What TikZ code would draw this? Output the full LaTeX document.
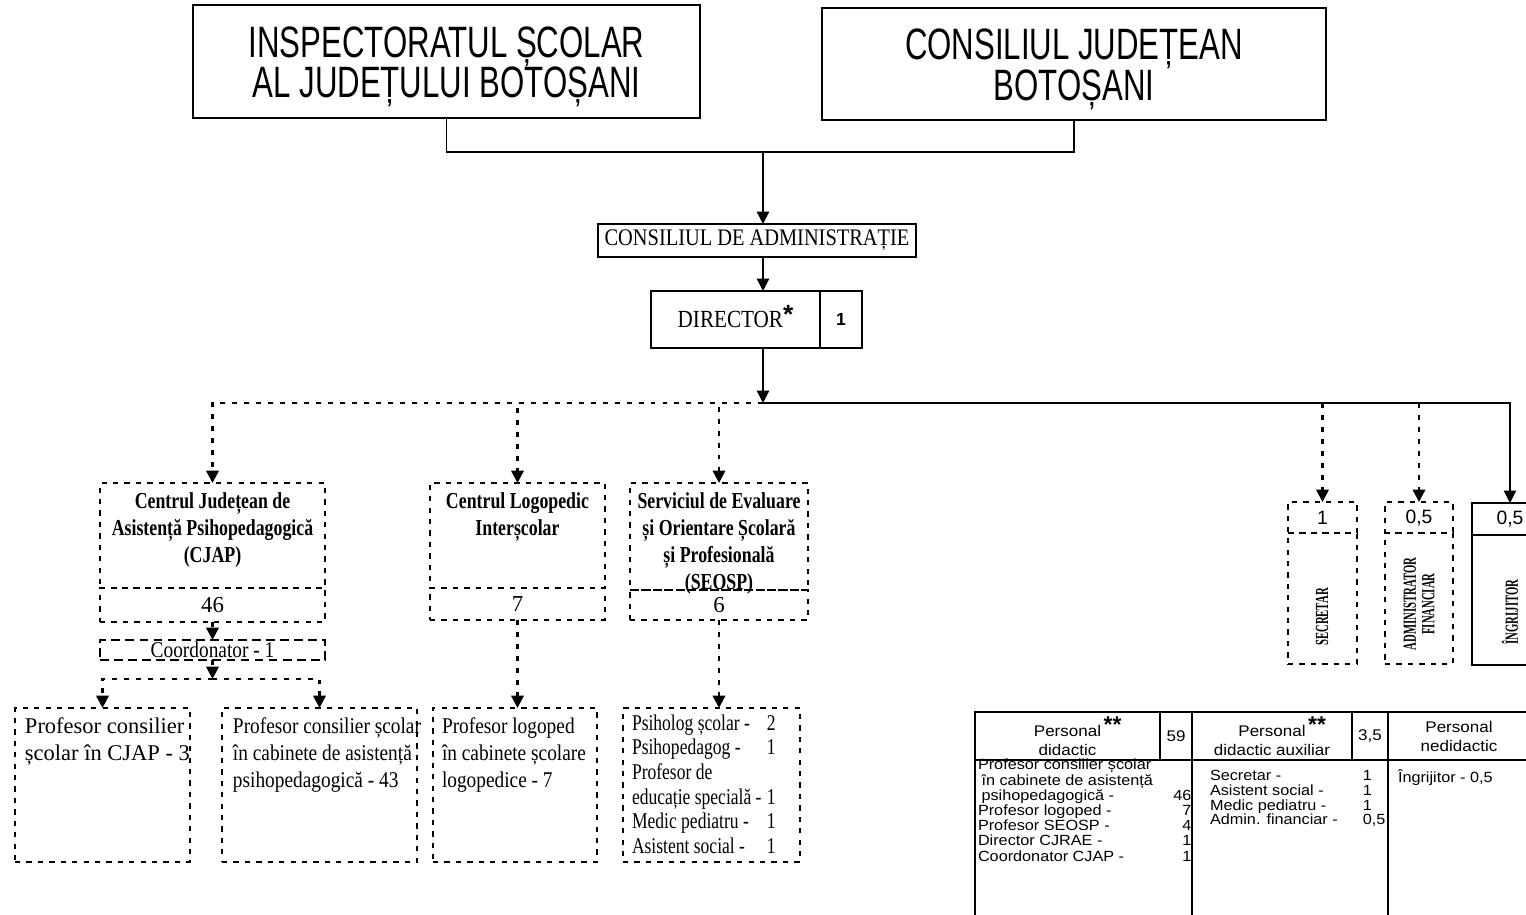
\documentclass[tikz,border=0pt]{standalone}
\usepackage{fontspec}
\setmainfont{Liberation Serif}
\setsansfont{Liberation Sans}
\newfontfamily\narrowsans[FakeStretch=0.71]{Liberation Sans}
\newfontfamily\widesans[FakeStretch=1.1]{Liberation Sans}
\newfontfamily\condserif[FakeStretch=0.78]{Liberation Serif}
\newfontfamily\midserif[FakeStretch=0.86]{Liberation Serif}
\newfontfamily\vertserif[FakeStretch=0.58]{Liberation Serif}
\newcommand\starfont{\sffamily\bfseries\fontsize{13}{13}\selectfont}
\usetikzlibrary{arrows.meta}

\begin{document}
\begin{tikzpicture}[x=0.02cm,y=-0.02cm,
  every node/.style={inner sep=0pt,outer sep=0pt},
  wh/.style 2 args={minimum width=#1*0.02cm,minimum height=#2*0.02cm},
  sbox/.style={rectangle,draw,line width=0.8pt},
  dbox/.style={rectangle,draw,line width=1.3pt,dash pattern=on 3pt off 3.5pt},
  tbox/.style={rectangle,draw,line width=0.6pt},
  conn/.style={line width=0.7pt},
  arr/.style={conn,-{Triangle[length=7pt,width=7pt]}},
  darr/.style={line width=1.4pt,dash pattern=on 2.8pt off 4pt,-{Triangle[length=7pt,width=7pt]}},
  toptext/.style={font=\narrowsans\fontsize{25}{23}\selectfont,align=center},
  headtext/.style={font=\condserif\bfseries\fontsize{13}{15.3}\selectfont,align=center,anchor=north},
  leaftext/.style={font=\midserif\fontsize{12.8}{15.3}\selectfont,align=left,anchor=north west},
  celltext/.style={font=\widesans\fontsize{8.8}{10.8}\selectfont,align=center},
  tabtext/.style={font=\widesans\fontsize{8.4}{8.5}\selectfont,anchor=north west},
  verttext/.style={font=\vertserif\bfseries\fontsize{10.5}{10.5}\selectfont,rotate=90,align=center}]
  \useasboundingbox (0,0) rectangle (1526,915);
  \clip (0,0) rectangle (1526,915);

  \node[sbox,wh={507}{113}] (isj) at (446.5,61.5) {};
  \node[toptext] (isjt) at ([yshift=-0.11cm]isj.center) {INSPECTORATUL ȘCOLAR\\AL JUDEȚULUI BOTOȘANI};
  \node[sbox,wh={504}{112}] (cj) at (1074,64) {};
  \node[toptext] (cjt) at ([yshift=-0.11cm]cj.center) {CONSILIUL JUDEȚEAN\\BOTOȘANI};
  \coordinate (j1) at (763,152);
  \draw[conn] (isj.south) |- (j1) -| (cj.south);

  \node[sbox,wh={318}{33},font=\midserif\fontsize{13.5}{16}\selectfont] (ca) at (757,240.5) {CONSILIUL DE ADMINISTRAȚIE};
  \draw[arr] (j1) -- (j1 |- ca.north);
  \node[sbox,wh={169}{57},font=\midserif\fontsize{14}{16}\selectfont] (dir) at (735.5,319.5) {DIRECTOR\smash{\raisebox{0.35ex}{\starfont\fontsize{15}{15}\selectfont *}}};
  \node[sbox,wh={42}{57},font=\sffamily\bfseries\fontsize{10}{12}\selectfont] (dirn) at (841,319.5) {1};
  \draw[arr] (ca.south -| j1) -- (dir.north -| j1);
  \coordinate (j2) at (763,403);
  \draw[arr] (dir.south -| j2) -- (j2);

  % centre
  \node[dbox,wh={225}{105}] (cjap) at (212.5,535.5) {};
  \node[dbox,wh={225}{34},font=\fontsize{13}{15}\selectfont] (cjapn) at (212.5,605) {46};
  \node[headtext] (cjapt) at ([yshift=-0.2cm]cjap.north) {Centrul Județean de\\Asistență Psihopedagogică\\(CJAP)};
  \node[dbox,wh={175}{105}] (clog) at (517.5,535.5) {};
  \node[dbox,wh={175}{32},font=\fontsize{13}{15}\selectfont] (clogn) at (517.5,604) {7};
  \node[headtext] (clogt) at ([yshift=-0.2cm]clog.north) {Centrul Logopedic\\Interșcolar};
  \node[dbox,wh={178}{107}] (seosp) at (719,536.5) {};
  \node[dbox,wh={178}{30},font=\fontsize{13}{15}\selectfont] (seospn) at (719,605) {6};
  \node[headtext] (seospt) at ([yshift=-0.2cm]seosp.north) {Serviciul de Evaluare\\și Orientare Școlară\\și Profesională\\(SEOSP)};
  \draw[darr] (j2) -| (cjap.north);
  \draw[darr] (j2) -| (clog.north);
  \draw[darr] (j2) -| (seosp.north);

  \node[rectangle,draw,line width=0.8pt,dash pattern=on 5pt off 3pt,wh={225}{20}] (cjapc) at (212.5,650) {};
  \node[font=\midserif\fontsize{12.8}{15}\selectfont] (cjapct) at (cjapc) {Coordonator - 1};
  \draw[darr] (cjapn.south) -- (cjapc.north);
  \coordinate (j3) at (212.5,679);
  \draw[darr] (cjapc.south) -- (j3);

  \node[dbox,wh={175}{154}] (leaf1) at (102.5,785) {};
  \node[dbox,wh={195}{154}] (leaf2) at (319.5,785) {};
  \node[dbox,wh={164}{154}] (leaf3) at (515,785) {};
  \node[dbox,wh={177}{154}] (leaf4) at (711.5,785) {};
  \draw[darr] (j3) -| (leaf1.north);
  \draw[darr] (j3) -| (leaf2.north);
  \draw[darr] (clogn.south) -- (clogn.south |- leaf3.north);
  \draw[darr] (seospn.south) -- (seospn.south |- leaf4.north);
  \node[leaftext,font=\fontsize{12.8}{15.3}\selectfont] (leaf1t) at ([xshift=0.2cm,yshift=-0.2cm]leaf1.north west) {Profesor consilier\\școlar în CJAP - 3};
  \node[leaftext] (leaf2t) at ([xshift=0.22cm,yshift=-0.2cm]leaf2.north west) {Profesor consilier școlar\\în cabinete de asistență\\psihopedagogică - 43};
  \node[leaftext] (leaf3t) at ([xshift=0.18cm,yshift=-0.2cm]leaf3.north west) {Profesor logoped\\în cabinete școlare\\logopedice - 7};
  \node[leaftext,font=\condserif\fontsize{12.8}{14}\selectfont] (leaf4t) at ([xshift=0.18cm,yshift=-0.1cm]leaf4.north west) {%
    \begin{tabular}{@{}l@{\hspace{3pt}}l@{}}
      Psiholog școlar - & 2\\
      Psihopedagog - & 1\\
      \multicolumn{2}{@{}l@{}}{Profesor de}\\
      educație specială - & 1\\
      Medic pediatru - & 1\\
      Asistent social - & 1
    \end{tabular}};

  % right
  \node[dbox,wh={69}{31},font=\sffamily\fontsize{11}{12}\selectfont] (sech) at (1322.5,517.5) {1};
  \node[dbox,wh={69}{131}] (sec) at (1322.5,598.5) {};
  \node[dbox,wh={68}{31},font=\sffamily\fontsize{11}{12}\selectfont] (admh) at (1419,517.5) {0,5};
  \node[dbox,wh={68}{131}] (adm) at (1419,598.5) {};
  \node[sbox,wh={76}{32},font=\sffamily\fontsize{11}{12}\selectfont] (ingh) at (1510,519) {0,5};
  \node[sbox,wh={76}{130}] (ing) at (1510,600) {};
  \node[verttext] (sect) at (1322,617) {SECRETAR};
  \node[verttext] (admt) at (1419,604) {ADMINISTRATOR\\FINANCIAR};
  \node[verttext] (ingt) at (1510,612) {ÎNGRIJITOR};
  \draw[darr] (sech.north |- j2) -- (sech.north);
  \draw[darr] (admh.north |- j2) -- (admh.north);
  \draw[arr] (j2) -| (ingh.north);

  % table
  \node[tbox,wh={185}{48},celltext] (h1) at (1067.5,736) {Personal\rlap{\,\raisebox{0.5ex}{\starfont **}}\\didactic};
  \node[tbox,wh={32}{48},celltext] (h1n) at (1176,736) {59};
  \node[tbox,wh={160}{48},celltext] (h2) at (1272,736) {Personal\rlap{\,\raisebox{0.5ex}{\starfont **}}\\didactic auxiliar};
  \node[tbox,wh={36}{48},celltext] (h2n) at (1370,736) {3,5};
  \node[tbox,wh={142}{48},celltext] (h3) at (1459,736) {Personal\\nedidactic};
  \node[tbox,wh={217}{165}] (b1) at (1083.5,842.5) {};
  \node[tbox,wh={196}{165}] (b2) at (1290,842.5) {};
  \node[tbox,wh={142}{165}] (b3) at (1459,842.5) {};
  \node[tabtext] (b1t) at ([xshift=0.06cm,yshift=0.02cm]b1.north west) {%
    \begin{tabular*}{4.27cm}{@{}l@{\extracolsep{\fill}}r@{}}
      Profesor consilier școlar & \\
      \hspace{2pt}în cabinete de asistență & \\
      \hspace{2pt}psihopedagogică - & 46\\
      Profesor logoped - & 7\\
      Profesor SEOSP - & 4\\
      Director CJRAE - & 1\\
      Coordonator CJAP - & 1
    \end{tabular*}};
  \node[tabtext,font=\widesans\fontsize{8.4}{7.9}\selectfont] (b2t) at ([xshift=0.36cm,yshift=-0.2cm]b2.north west) {%
    \begin{tabular}{@{}p{3.06cm}@{}l@{}}
      Secretar - & 1\\
      Asistent social - & 1\\
      Medic pediatru - & 1\\
      Admin. financiar - & 0,5
    \end{tabular}};
  \node[tabtext] (b3t) at ([xshift=0.2cm,yshift=-0.2cm]b3.north west) {Îngrijitor - 0,5};
\end{tikzpicture}
\end{document}
